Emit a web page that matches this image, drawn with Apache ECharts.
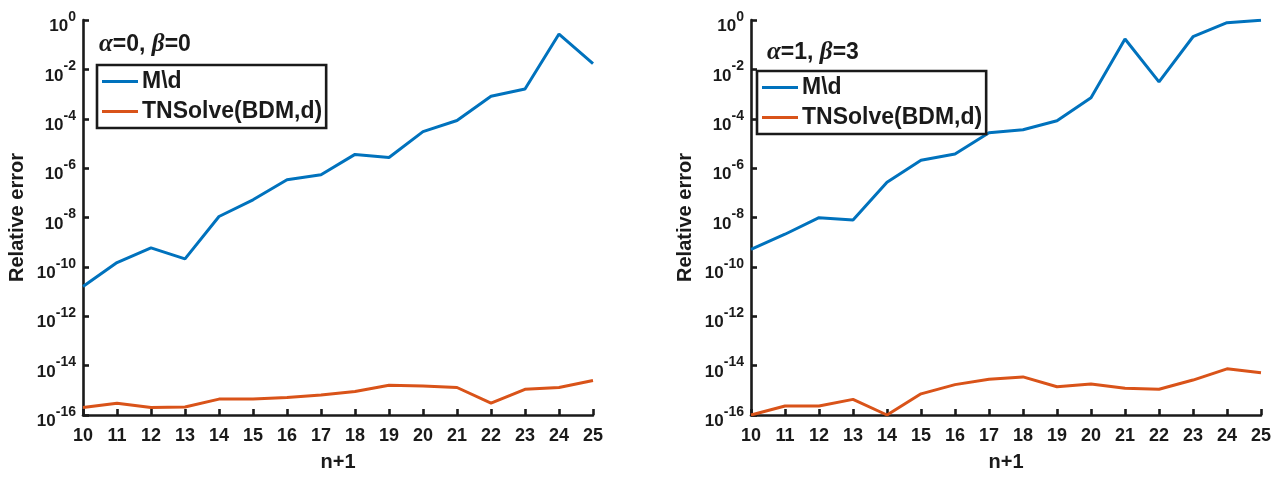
<!DOCTYPE html>
<html>
<head>
<meta charset="utf-8">
<title>Relative error vs n+1</title>
<script src="https://cdn.jsdelivr.net/npm/echarts@6/dist/echarts.min.js"></script>
<style>
  html, body { margin: 0; padding: 0; background: #ffffff; }
  #chart { width: 1282px; height: 477px; }
</style>
</head>
<body>
<div id="chart"></div>
<script>
// Problem size n+1 on the horizontal axis
const nValues = [10, 11, 12, 13, 14, 15, 16, 17, 18, 19, 20, 21, 22, 23, 24, 25];

// alpha = 0, beta = 0
const directA = [1.6e-11, 1.5e-10, 5.9e-10, 2.1e-10, 1.1e-8, 5.2e-8, 3.4e-7, 5.4e-7,
                 3.6e-6, 2.7e-6, 3.0e-5, 8.5e-5, 8.1e-4, 1.6e-3, 0.27, 0.017];
const tnA     = [2.0e-16, 3.0e-16, 2.0e-16, 2.1e-16, 4.4e-16, 4.4e-16, 5.1e-16, 6.5e-16,
                 8.9e-16, 1.6e-15, 1.5e-15, 1.3e-15, 3.0e-16, 1.1e-15, 1.3e-15, 2.5e-15];

// alpha = 1, beta = 3
const directB = [5.1e-10, 2.1e-9, 9.8e-9, 7.9e-9, 2.7e-7, 2.1e-6, 3.7e-6, 2.7e-5,
                 3.6e-5, 8.3e-5, 7.1e-4, 0.17, 3.1e-3, 0.21, 0.78, 0.98];
const tnB     = [1.0e-16, 2.3e-16, 2.3e-16, 4.3e-16, 1.0e-16, 7.2e-16, 1.7e-15, 2.8e-15,
                 3.5e-15, 1.4e-15, 1.8e-15, 1.2e-15, 1.1e-15, 2.6e-15, 7.4e-15, 5.2e-15];

const seriesNames = ['M\\d', 'TNSolve(BDM,d)'];
const panelTitles = [['0', '0'], ['1', '3']];

const BLUE = '#0072BD';
const ORANGE = '#D95319';
const INK = '#1a1a1a';
const SANS = '"Liberation Sans", Arial, Helvetica, sans-serif';
const SERIF = '"Liberation Serif", "Times New Roman", serif';

const pair = (ys) => nValues.map((x, i) => [x, ys[i]]);

const panels = [
  { left: 83,  titleTop: 27, legendLeft: 97,  legendTop: 65, data: [directA, tnA] },
  { left: 751, titleTop: 35, legendLeft: 757, legendTop: 71, data: [directB, tnB] }
];

const chart = echarts.init(document.getElementById('chart'), null, { renderer: 'canvas' });

const grid = [], xAxis = [], yAxis = [], series = [], title = [], legend = [];

panels.forEach((p, k) => {
  grid.push({ left: p.left, top: 20, width: 510, height: 401, containLabel: false });

  xAxis.push({
    gridIndex: k,
    type: 'value',
    min: 10, max: 25, interval: 1,
    name: 'n+1',
    nameLocation: 'middle',
    nameGap: 37,
    nameTextStyle: { color: INK, fontFamily: SANS, fontWeight: 'bold', fontSize: 20 },
    axisLine: { show: true, lineStyle: { color: INK, width: 2.6 } },
    axisTick: { show: true, inside: true, length: 6, lineStyle: { color: INK, width: 2.6 } },
    axisLabel: { color: INK, fontFamily: SANS, fontWeight: 'bold', fontSize: 18, margin: 12 },
    splitLine: { show: false }
  });

  // log scale: one tick every two decades from 1e-16 up to 1e0
  yAxis.push({
    gridIndex: k,
    type: 'log',
    logBase: 10,
    min: 1e-16, max: 1,
    interval: 2,
    splitNumber: 8,
    name: 'Relative error',
    nameLocation: 'middle',
    nameGap: 56,
    nameTextStyle: { color: INK, fontFamily: SANS, fontWeight: 'bold', fontSize: 20 },
    axisLine: { show: true, lineStyle: { color: INK, width: 2.6 } },
    axisTick: { show: true, inside: true, length: 6, lineStyle: { color: INK, width: 2.6 } },
    axisLabel: {
      margin: 7,
      padding: [5, 0, 0, 0],
      formatter: (v) => '{b|10}{s|' + Math.round(Math.log10(v)) + '}',
      rich: {
        b: { color: INK, fontFamily: SANS, fontWeight: 'bold', fontSize: 17, lineHeight: 25, verticalAlign: 'bottom' },
        s: { color: INK, fontFamily: SANS, fontWeight: 'bold', fontSize: 14, lineHeight: 12, verticalAlign: 'top' }
      }
    },
    splitLine: { show: false },
    minorTick: { show: false }
  });

  title.push({
    left: p.left + 11,
    top: p.titleTop,
    text: '{g|α}{t|=' + panelTitles[k][0] + ', }{g|β}{t|=' + panelTitles[k][1] + '}',
    textStyle: {
      rich: {
        g: { fontFamily: SERIF, fontStyle: 'italic', fontSize: 25, color: INK },
        t: { fontFamily: SANS, fontWeight: 'bold', fontSize: 23, color: INK }
      }
    }
  });

  legend.push({
    left: p.legendLeft,
    top: p.legendTop,
    orient: 'vertical',
    data: seriesNames,
    icon: 'rect',
    itemWidth: 36,
    itemHeight: 3,
    itemGap: 7,
    padding: [5, 4, 5, 5],
    backgroundColor: '#ffffff',
    borderColor: INK,
    borderWidth: 2.6,
    borderRadius: 0,
    selectedMode: false,
    textStyle: { color: INK, fontFamily: SANS, fontWeight: 'bold', fontSize: 23, padding: [0, 0, 0, -1] }
  });

  [BLUE, ORANGE].forEach((color, j) => {
    series.push({
      name: seriesNames[j],
      type: 'line',
      xAxisIndex: k,
      yAxisIndex: k,
      data: pair(p.data[j]),
      showSymbol: false,
      symbol: 'none',
      color: color,
      lineStyle: { color: color, width: 3 },
      animation: false,
      z: 2
    });
  });
});

chart.setOption({
  backgroundColor: '#ffffff',
  animation: false,
  grid, xAxis, yAxis, series, title, legend
});
</script>
</body>
</html>
